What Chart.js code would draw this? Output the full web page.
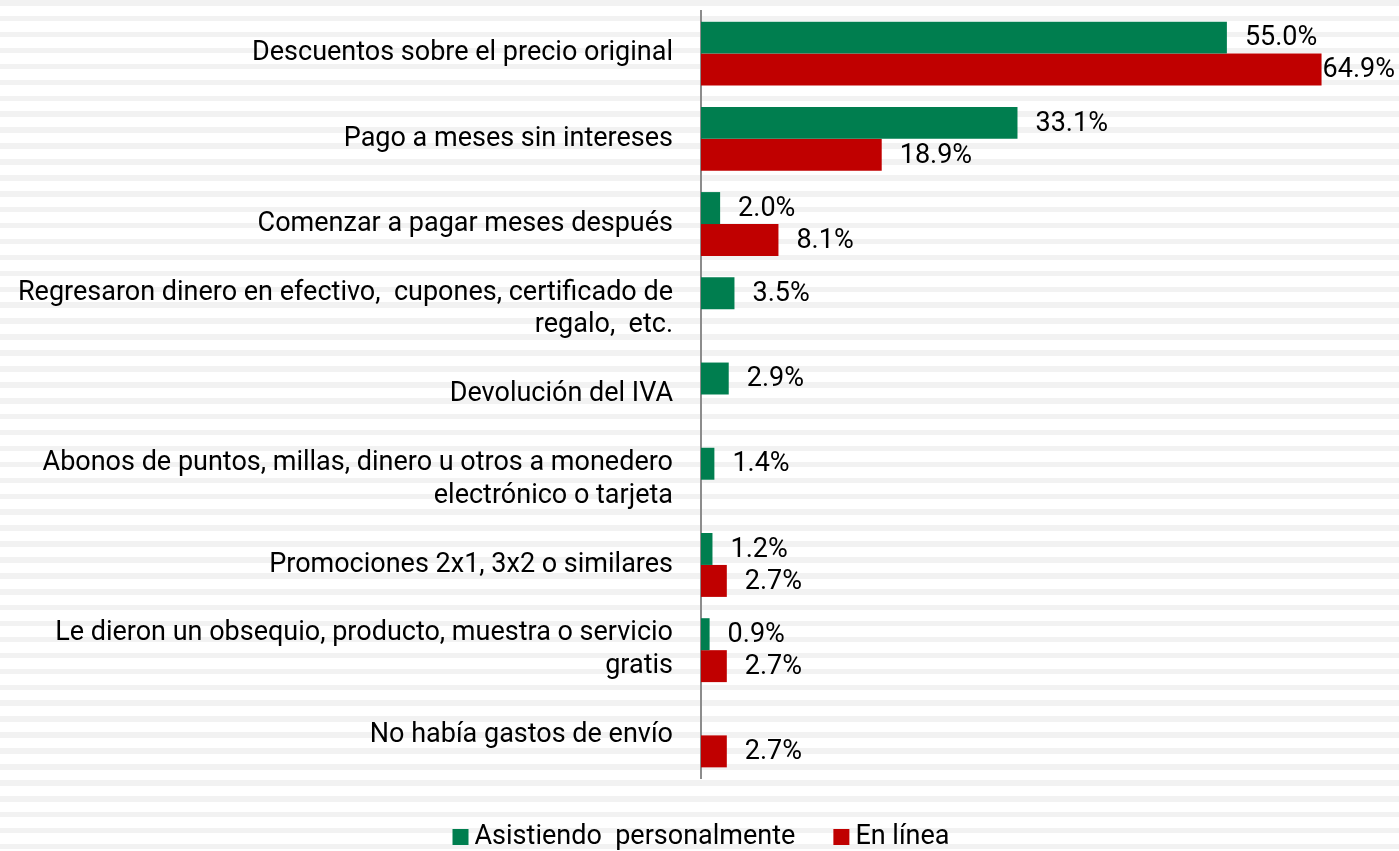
<!DOCTYPE html>
<html>
<head>
<meta charset="utf-8">
<script src="https://cdn.jsdelivr.net/npm/chart.js@4"></script>
<style>
  html, body {
    margin: 0;
    padding: 0;
    width: 1399px;
    height: 851px;
    overflow: hidden;
    background: repeating-linear-gradient(to bottom, #f2f2f2 0px, #f2f2f2 5.5px, #ffffff 5.5px, #ffffff 15.92px);
  }
  #wrap { position: relative; width: 1399px; height: 851px; }
</style>
</head>
<body>
<div id="wrap"><canvas id="chartCanvas"></canvas></div>
<script>
const categories = [
    'Descuentos sobre el precio original',
    'Pago a meses sin intereses',
    'Comenzar a pagar meses después',
    ['Regresaron dinero en efectivo,  cupones, certificado de', 'regalo,  etc.'],
    'Devolución del IVA',
    ['Abonos de puntos, millas, dinero u otros a monedero', 'electrónico o tarjeta'],
    'Promociones 2x1, 3x2 o similares',
    ['Le dieron un obsequio, producto, muestra o servicio', 'gratis'],
    'No había gastos de envío'
];
const seriesNames = ['Asistiendo  personalmente', 'En línea'];
const personalmente = [55.0, 33.1, 2.0, 3.5, 2.9, 1.4, 1.2, 0.9, null];
const enLinea = [64.9, 18.9, 8.1, null, null, null, 2.7, 2.7, 2.7];

const FONT = 'Roboto, "Open Sans", sans-serif';
const FONT_SIZE = 27;

// etiquetas de valor al final de cada barra
const valueLabels = {
    id: 'valueLabels',
    afterDatasetsDraw(chart) {
        const ctx = chart.ctx;
        ctx.save();
        ctx.font = FONT_SIZE + 'px ' + FONT;
        ctx.fillStyle = '#000';
        ctx.textBaseline = 'middle';
        ctx.textAlign = 'left';
        chart.data.datasets.forEach((ds, di) => {
            const meta = chart.getDatasetMeta(di);
            meta.data.forEach((bar, i) => {
                const v = ds.data[i];
                if (v === null || v === undefined) return;
                const text = v.toFixed(1) + '%';
                const w = ctx.measureText(text).width;
                let x = bar.x + 18;
                if (x + w > chart.width - 4) x = chart.width - 4 - w;
                ctx.fillText(text, x, bar.y + 1);
            });
        });
        ctx.restore();
    }
};

// leyenda inferior, estilo Excel (cuadro pegado al texto)
const bottomLegend = {
    id: 'bottomLegend',
    afterDraw(chart) {
        const ctx = chart.ctx;
        const box = 16, gap = 6, spacing = 38;
        const cy = 836;
        ctx.save();
        ctx.font = FONT_SIZE + 'px ' + FONT;
        ctx.textBaseline = 'middle';
        const items = chart.data.datasets.map(ds => ({
            text: ds.label,
            color: ds.backgroundColor,
            w: box + gap + ctx.measureText(ds.label).width
        }));
        const total = items.reduce((s, it) => s + it.w, 0) + spacing * (items.length - 1);
        let x = chart.chartArea.left - total / 2;
        items.forEach(it => {
            ctx.fillStyle = it.color;
            ctx.fillRect(x, cy - box / 2 + 1, box, box);
            ctx.fillStyle = '#000';
            ctx.fillText(it.text, x + box + gap, cy + 1);
            x += it.w + spacing;
        });
        ctx.restore();
    }
};

const chart = new Chart(document.getElementById('chartCanvas'), {
    type: 'bar',
    data: {
        labels: categories,
        datasets: [{
            label: seriesNames[0],
            data: personalmente,
            backgroundColor: '#007e4f',
            categoryPercentage: 0.75,
            barPercentage: 1.0
        }, {
            label: seriesNames[1],
            data: enLinea,
            backgroundColor: '#c00000',
            categoryPercentage: 0.75,
            barPercentage: 1.0
        }]
    },
    options: {
        indexAxis: 'y',
        responsive: true,
        maintainAspectRatio: false,
        animation: false,
        layout: { padding: { top: 11, right: 0, left: 0, bottom: 73 } },
        scales: {
            x: {
                display: false,
                min: 0,
                max: 73
            },
            y: {
                ticks: {
                    color: '#000',
                    padding: 28,
                    font: { family: FONT, size: FONT_SIZE, lineHeight: 1.22 }
                },
                grid: { display: false, drawTicks: false },
                border: { display: true, color: '#8c8c8c', width: 2 },
                afterFit(scale) {
                    scale.width = 701;
                    scale.paddingTop = 0;
                    scale.paddingBottom = 0;
                }
            }
        },
        plugins: {
            legend: { display: false },
            tooltip: { enabled: false }
        }
    },
    plugins: [valueLabels, bottomLegend]
});
</script>
</body>
</html>
